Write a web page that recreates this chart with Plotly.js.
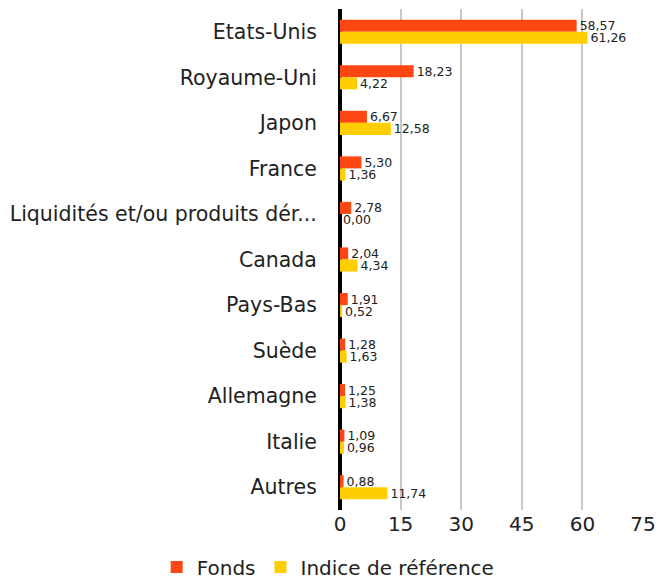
<!DOCTYPE html>
<html>
<head>
<meta charset="utf-8">
<script src="https://cdn.plot.ly/plotly-3.0.1.min.js"></script>
<style>html,body{margin:0;padding:0;background:#fff;}</style>
</head>
<body>
<div id="chart" style="width:669px;height:583px;"></div>
<script>
const categories = ["Etats-Unis","Royaume-Uni","Japon","France","Liquidités et/ou produits dér...","Canada","Pays-Bas","Suède","Allemagne","Italie","Autres"];
const fonds = [58.57,18.23,6.67,5.30,2.78,2.04,1.91,1.28,1.25,1.09,0.88];
const indice = [61.26,4.22,12.58,1.36,0.00,4.34,0.52,1.63,1.38,0.96,11.74];
const xTicks = [0,15,30,45,60,75];

const FONT = "'DejaVu Sans', sans-serif";
const traces = [
  {type:"bar", orientation:"h", name:"Fonds", y:categories, x:fonds,
   marker:{color:"#FF4713"}, texttemplate:"%{x:.2f}", textposition:"outside",
   constraintext:"none", cliponaxis:false,
   textfont:{size:12.5, color:"#222", family:FONT}, hoverinfo:"x+y"},
  {type:"bar", orientation:"h", name:"Indice de référence", y:categories, x:indice,
   marker:{color:"#FFCE00"}, texttemplate:"%{x:.2f}", textposition:"outside",
   constraintext:"none", cliponaxis:false,
   textfont:{size:12.5, color:"#222", family:FONT}, hoverinfo:"x+y"}
];
const layout = {
  width:669, height:583,
  separators:", ",
  font:{family:FONT, color:"#222", size:20},
  margin:{l:340, r:26, t:9, b:73, autoexpand:false},
  barmode:"group", bargap:0.47, bargroupgap:0,
  paper_bgcolor:"#fff", plot_bgcolor:"#fff",
  xaxis:{range:[0,75], tickvals:xTicks, ticktext:xTicks.map(String),
    showgrid:true, gridcolor:"#c8c8c8", gridwidth:2,
    zeroline:true, zerolinecolor:"#000", zerolinewidth:4,
    showline:false, ticks:"", tickfont:{size:20, color:"#222"}, fixedrange:true,
    automargin:false},
  yaxis:{autorange:"reversed", type:"category", showgrid:false, zeroline:false,
    ticks:"outside", ticklen:18, tickcolor:"rgba(0,0,0,0)",
    tickfont:{size:20.5, color:"#222"}, automargin:false, fixedrange:true},
  showlegend:true,
  legend:{orientation:"h", x:-0.605, xref:"paper", xanchor:"left",
    y:-0.114, yref:"paper", yanchor:"middle",
    font:{size:20, color:"#222"}, itemclick:false, itemdoubleclick:false},
};
Plotly.newPlot("chart", traces, layout, {displayModeBar:false, staticPlot:true});
</script>
</body>
</html>
